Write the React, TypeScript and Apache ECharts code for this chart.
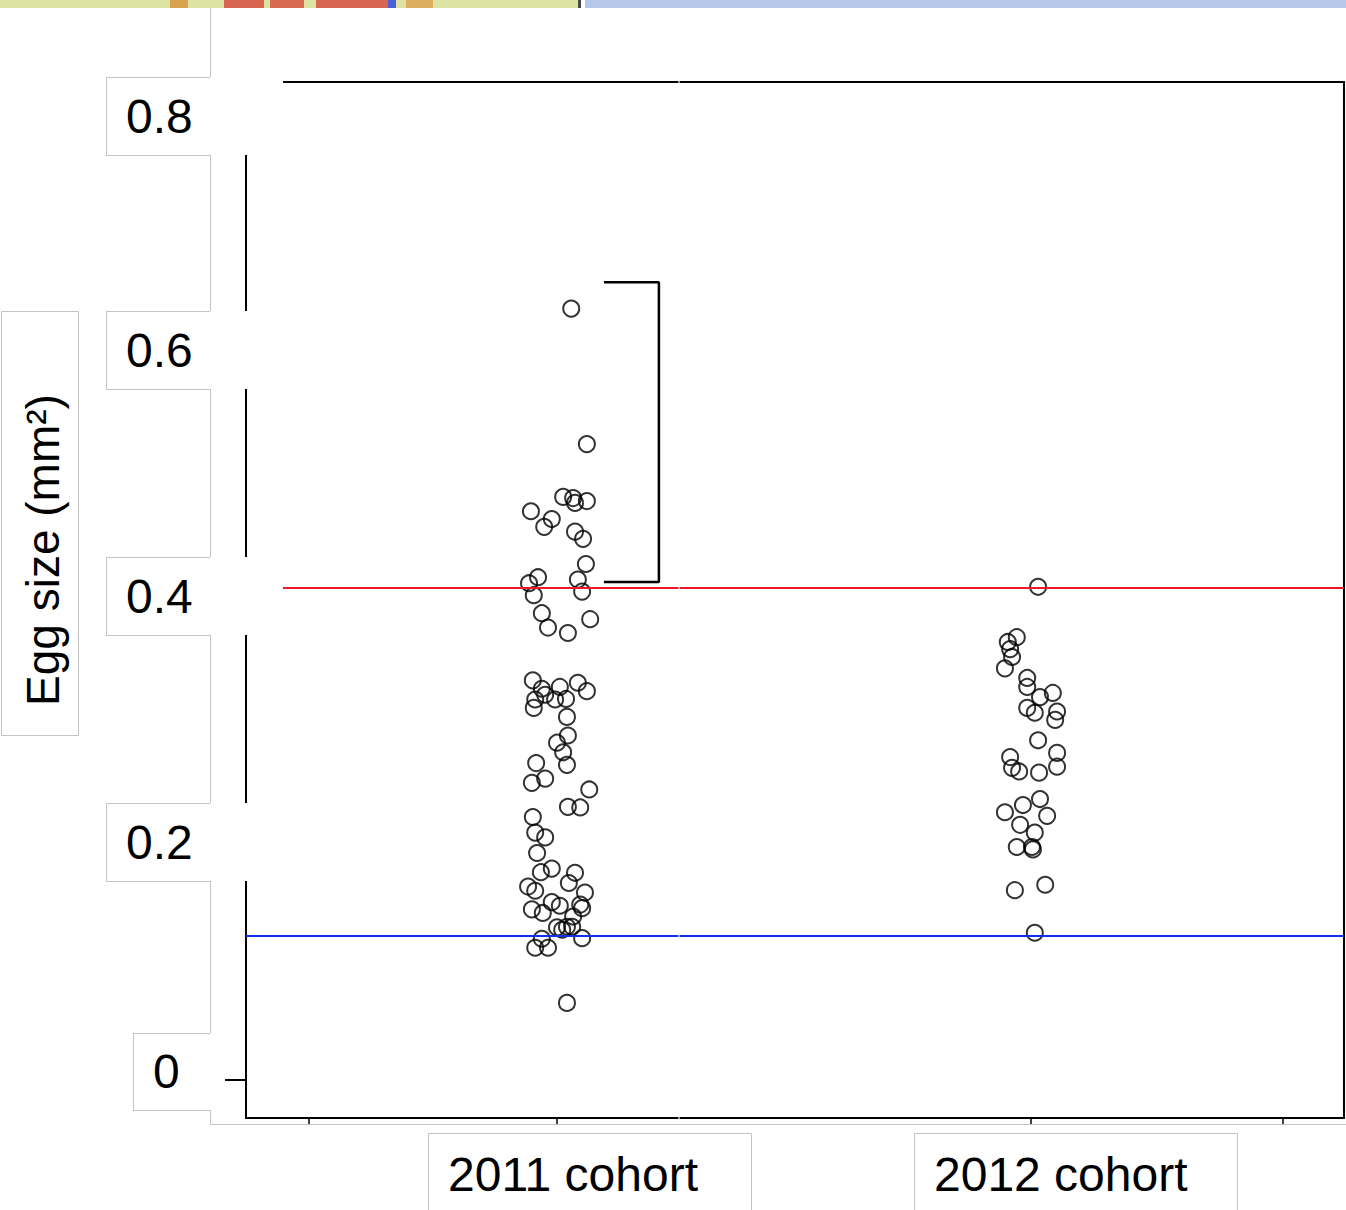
import React, { useEffect, useRef } from "react";
import * as echarts from "echarts";

// ---------------- data ----------------
const categories = ["2011 cohort", "2012 cohort"];
const categoryCenters = [1, 2];
const yTickLabels = ["0.8", "0.6", "0.4", "0.2", "0"];
const yTickValues = [0, 0.2, 0.4, 0.6, 0.8];
const xTickValues = [0.477, 1, 2, 2.532];
const yTitle = "Egg size (mm²)";

const cohort2011Jitter = [
  0.030, 0.063, 0.013, 0.034, 0.038, 0.063, -0.055, -0.011, -0.027, 0.038,
  0.055, 0.061, -0.040, -0.059, 0.044, 0.053, -0.049, -0.032, -0.019, 0.023,
  0.070, -0.051, -0.032, -0.046, -0.049, -0.025, -0.004, 0.006, 0.019, 0.044,
  0.063, 0.021, 0.023, 0, 0.013, 0.021, -0.044, -0.053, -0.025, 0.068,
  0.023, 0.049, -0.051, -0.046, -0.025, -0.042, -0.034, -0.011, 0.038, 0.025,
  -0.061, -0.046, 0.059, -0.011, 0.006, 0.049, 0.053, -0.053, -0.030, 0.034,
  0, 0.011, 0.021, 0.032, 0.053, -0.032, -0.046, -0.019, 0.021,
];
const cohort2011Values = [
  0.643, 0.530, 0.486, 0.485, 0.481, 0.4825, 0.474, 0.4675, 0.461, 0.457,
  0.451, 0.430, 0.419, 0.414, 0.417, 0.407, 0.404, 0.389, 0.377, 0.3725,
  0.384, 0.333, 0.326, 0.317, 0.310, 0.321, 0.317, 0.3275, 0.3175, 0.331,
  0.324, 0.3025, 0.287, 0.281, 0.273, 0.2625, 0.264, 0.2475, 0.251, 0.242,
  0.2275, 0.227, 0.219, 0.206, 0.202, 0.189, 0.173, 0.176, 0.1725, 0.164,
  0.161, 0.1575, 0.156, 0.148, 0.145, 0.146, 0.143, 0.142, 0.139, 0.136,
  0.127, 0.125, 0.1275, 0.1275, 0.118, 0.1175, 0.110, 0.110, 0.064,
];
const cohort2012Jitter = [
  0.015, -0.030, -0.049, -0.044, -0.040, -0.055, -0.008, -0.008, 0.019, 0.046,
  -0.008, 0.008, 0.055, 0.051, 0.015, -0.044, 0.055, -0.040, -0.025, 0.017,
  0.055, -0.055, -0.017, 0.019, 0.034, -0.023, 0.008, -0.030, 0.002, 0.004,
  -0.034, 0.030, 0.008,
];
const cohort2012Values = [
  0.411, 0.369, 0.365, 0.359, 0.3525, 0.343, 0.335, 0.3275, 0.319, 0.3225,
  0.310, 0.306, 0.307, 0.300, 0.283, 0.269, 0.2725, 0.260, 0.257, 0.256,
  0.261, 0.223, 0.229, 0.234, 0.220, 0.2125, 0.206, 0.194, 0.194, 0.192,
  0.158, 0.1625, 0.1225,
];
const upperLineValue = 0.4135;
const lowerLineValue = 0.1215;
const bracketX = [1.099, 1.215, 1.215, 1.099];
const bracketY = [0.665, 0.665, 0.415, 0.415];

// ---------------- layout ----------------
const FONT = '"Liberation Sans", Arial, sans-serif';
const GRID = { left: 246, top: 82, width: 1098, height: 1036 };
const X_MIN = 1 - (557 - 246) / 474;
const X_MAX = X_MIN + 1098 / 474;
const Y_MIN = -0.032;
const Y_MAX = 0.832;
const GRAY = "#c3c3c3";
const tickLabelBoxes = [
  { x: 106, y: 77, h: 78, right: 283 },
  { x: 106, y: 311, h: 78, right: 283 },
  { x: 106, y: 557, h: 78, right: 283 },
  { x: 106, y: 803, h: 78, right: 283 },
  { x: 133, y: 1033, h: 77, right: 222 },
];
const categoryBoxes = [
  { x: 428, w: 323 },
  { x: 914, w: 323 },
];

function line(x1: number, y1: number, x2: number, y2: number, stroke: string, lineWidth: number, z: number) {
  return {
    type: "line",
    z,
    silent: true,
    shape: { x1, y1, x2, y2 },
    style: { stroke, lineWidth },
  };
}
function rect(x: number, y: number, width: number, height: number, fill: string, z: number, stroke?: string) {
  return {
    type: "rect",
    z,
    silent: true,
    shape: { x, y, width, height },
    style: stroke ? { fill, stroke, lineWidth: 1 } : { fill },
  };
}

export default function App() {
  const ref = useRef<HTMLDivElement>(null);

  useEffect(() => {
    if (!ref.current) return;
    const chart = echarts.init(ref.current, null, { renderer: "svg" });

    const data2011 = cohort2011Values.map((v, i) => [categoryCenters[0] + cohort2011Jitter[i], v]);
    const data2012 = cohort2012Values.map((v, i) => [categoryCenters[1] + cohort2012Jitter[i], v]);
    const bracketData = bracketX.map((x, i) => [x, bracketY[i]]);

    const elements: any[] = [];
    // top strip (slide background pieces)
    elements.push(rect(0, 0, 578, 8, "#dde3a3", 20));
    elements.push(rect(170, 0, 18, 8, "#d9a24e", 21));
    elements.push(rect(224, 0, 40, 8, "#d7654f", 21));
    elements.push(rect(270, 0, 34, 8, "#d96a52", 21));
    elements.push(rect(316, 0, 72, 8, "#d7654f", 21));
    elements.push(rect(388, 0, 8, 8, "#4a62d6", 21));
    elements.push(rect(406, 0, 27, 8, "#dcae60", 21));
    elements.push(rect(578, 0, 3, 8, "#4a4a4a", 21));
    elements.push(rect(585, 0, 761, 8, "#b5c8ea", 21));

    // big image frame lines
    elements.push(line(210.5, 8, 210.5, 1124, GRAY, 1, 5));
    elements.push(line(210, 1124.5, 1346, 1124.5, GRAY, 1, 5));
    // seam
    elements.push(line(679, 79, 679, 1121, "#ffffff", 1.2, 6));

    // tick label boxes
    tickLabelBoxes.forEach((b, i) => {
      elements.push(rect(b.x, b.y, b.right - b.x, b.h, "#ffffff", 10));
      elements.push(line(b.x, b.y + 0.5, 210, b.y + 0.5, GRAY, 1, 11));
      elements.push(line(b.x + 0.5, b.y, b.x + 0.5, b.y + b.h, GRAY, 1, 11));
      elements.push(line(b.x, b.y + b.h + 0.5, 210, b.y + b.h + 0.5, GRAY, 1, 11));
      elements.push({
        type: "text",
        z: 12,
        silent: true,
        x: b.x + 20,
        y: b.y + b.h / 2,
        style: {
          text: yTickLabels[i],
          font: `48px ${FONT}`,
          fill: "#000",
          textAlign: "left",
          textVerticalAlign: "middle",
        },
      });
    });

    // y title box
    elements.push(rect(1.5, 311.5, 77, 424, "#ffffff", 10, GRAY));
    elements.push({
      type: "text",
      z: 12,
      silent: true,
      x: 43,
      y: 550,
      rotation: Math.PI / 2,
      style: {
        text: yTitle,
        font: `46px ${FONT}`,
        fill: "#000",
        textAlign: "center",
        textVerticalAlign: "middle",
      },
    });

    // category boxes
    categoryBoxes.forEach((b, i) => {
      elements.push(rect(b.x + 0.5, 1133.5, b.w, 100, "#ffffff", 10, GRAY));
      elements.push({
        type: "text",
        z: 12,
        silent: true,
        x: b.x + 20,
        y: 1174,
        style: {
          text: categories[i],
          font: `48px ${FONT}`,
          fill: "#000",
          textAlign: "left",
          textVerticalAlign: "middle",
        },
      });
    });

    const pointStyle = {
      color: "rgba(0,0,0,0)",
      borderColor: "#000",
      borderWidth: 2,
    };

    chart.setOption({
      animation: false,
      backgroundColor: "#ffffff",
      grid: {
        left: GRID.left,
        top: GRID.top,
        width: GRID.width,
        height: GRID.height,
        show: true,
        borderColor: "#000",
        borderWidth: 2,
        backgroundColor: "transparent",
        containLabel: false,
      },
      xAxis: {
        type: "value",
        min: X_MIN,
        max: X_MAX,
        axisLine: { show: false, onZero: false },
        splitLine: { show: false },
        axisLabel: { show: false },
        axisTick: {
          show: true,
          length: 6,
          customValues: xTickValues,
          lineStyle: { color: "#000", width: 1.5 },
        },
      },
      yAxis: {
        type: "value",
        min: Y_MIN,
        max: Y_MAX,
        axisLine: { show: false, onZero: false },
        splitLine: { show: false },
        axisLabel: { show: false },
        axisTick: {
          show: true,
          length: 21,
          customValues: yTickValues,
          lineStyle: { color: "#000", width: 2 },
        },
      },
      series: [
        {
          type: "scatter",
          name: categories[0],
          data: data2011,
          symbol: "circle",
          symbolSize: 16,
          itemStyle: pointStyle,
          silent: true,
          z: 3,
          markLine: {
            silent: true,
            symbol: "none",
            label: { show: false },
            data: [
              { yAxis: upperLineValue, lineStyle: { color: "#f0162c", width: 2, type: "solid" } },
              { yAxis: lowerLineValue, lineStyle: { color: "#1230e8", width: 2, type: "solid" } },
            ],
          },
        },
        {
          type: "scatter",
          name: categories[1],
          data: data2012,
          symbol: "circle",
          symbolSize: 16,
          itemStyle: pointStyle,
          silent: true,
          z: 3,
        },
        {
          type: "line",
          data: bracketData,
          showSymbol: false,
          symbol: "none",
          silent: true,
          lineStyle: { color: "#000", width: 2.5 },
          z: 3,
        },
      ],
      graphic: { elements },
    });

    return () => chart.dispose();
  }, []);

  return (
    <div
      ref={ref}
      style={{ position: "absolute", left: 0, top: 0, width: 1346, height: 1210 }}
    />
  );
}
